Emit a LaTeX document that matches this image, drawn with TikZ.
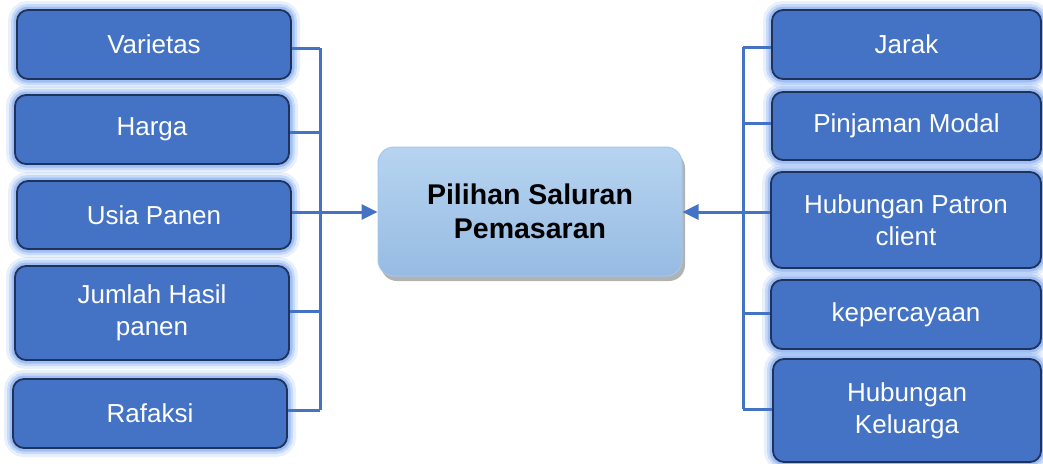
\documentclass[tikz,border=0pt]{standalone}
\usepackage{fontspec}
\setmainfont{Liberation Sans}
\usetikzlibrary{arrows.meta,shadows}
\definecolor{boxblue}{HTML}{4472C4}
\definecolor{boxedge}{HTML}{1F3259}
\definecolor{glow}{HTML}{8DB2F2}
\definecolor{linkblue}{HTML}{4472C4}
\definecolor{ctop}{HTML}{B7D4F1}
\definecolor{cbot}{HTML}{96BBE2}
\definecolor{cedge}{HTML}{A6C6EA}
\tikzset{
  factor/.style={rectangle, rounded corners=11pt, fill=boxblue, draw=boxedge,
    line width=1.8pt, text=white, align=center, inner sep=0pt,
    font=\fontsize{26}{32}\selectfont,
    preaction={draw=glow, line width=18pt, draw opacity=0.2},
    preaction={draw=glow, line width=12pt, draw opacity=0.35},
    preaction={draw=glow, line width=7pt, draw opacity=0.7}},
  central/.style={rectangle, rounded corners=16pt, top color=ctop, bottom color=cbot,
    draw=cedge, line width=1pt, text=black, align=center, inner sep=0pt,
    font=\fontsize{28.5}{34}\bfseries\selectfont,
    drop shadow={shadow xshift=3pt, shadow yshift=-5pt, fill=black, opacity=0.3}},
  link/.style={draw=linkblue, line width=3pt},
  arrowlink/.style={link, -{Triangle[length=16pt,width=15pt]}}
}
\begin{document}
\begin{tikzpicture}[x=1pt,y=-1pt]
\useasboundingbox (0,0) rectangle (1043,463);
% left factors
\node[factor, minimum width=274pt, minimum height=69pt] (L1) at (154,44.5) {Varietas};
\node[factor, minimum width=274pt, minimum height=69pt] (L2) at (152,129.5) {Harga};
\node[factor, minimum width=274pt, minimum height=68pt] (L3) at (154,215) {Usia Panen};
\node[factor, minimum width=274pt, minimum height=94pt] (L4) at (152,313) {Jumlah Hasil\\panen};
\node[factor, minimum width=274pt, minimum height=69pt] (L5) at (150,413.5) {Rafaksi};
% right factors
\node[factor, minimum width=269pt, minimum height=69pt] (R1) at (906.5,44.5) {Jarak};
\node[factor, minimum width=269pt, minimum height=68pt] (R2) at (906.5,126) {Pinjaman Modal};
\node[factor, minimum width=270pt, minimum height=96pt] (R3) at (906,220) {Hubungan Patron\\client};
\node[factor, minimum width=270pt, minimum height=69pt] (R4) at (906,314.5) {kepercayaan};
\node[factor, minimum width=268pt, minimum height=103pt] (R5) at (907,410.5) {Hubungan\\Keluarga};
% central
\node[central, minimum width=304pt, minimum height=129pt] (C) at (530,211.5) {Pilihan Saluran\\Pemasaran};
% left bracket
\coordinate (lb1) at (320,48);
\coordinate (lb2) at (320,132);
\coordinate (lb3) at (320,212);
\coordinate (lb4) at (320,311);
\coordinate (lb5) at (320,410);
\draw[link] (L1.east |- lb1) -- (lb1);
\draw[link] (L2.east |- lb2) -- (lb2);
\draw[link] (L3.east |- lb3) -- (lb3);
\draw[link] (L4.east |- lb4) -- (lb4);
\draw[link] (L5.east |- lb5) -- (lb5);
\draw[link] (lb1) -- (lb5);
\draw[arrowlink] (lb3) -- (C.west |- lb3);
% right bracket
\coordinate (rb1) at (743,47);
\coordinate (rb2) at (743,123);
\coordinate (rb3) at (743,212);
\coordinate (rb4) at (743,313);
\coordinate (rb5) at (743,409);
\draw[link] (R1.west |- rb1) -- (rb1);
\draw[link] (R2.west |- rb2) -- (rb2);
\draw[link] (R3.west |- rb3) -- (rb3);
\draw[link] (R4.west |- rb4) -- (rb4);
\draw[link] (R5.west |- rb5) -- (rb5);
\draw[link] (rb1) -- (rb5);
\draw[arrowlink] (rb3) -- (C.east |- rb3);
\end{tikzpicture}
\end{document}
